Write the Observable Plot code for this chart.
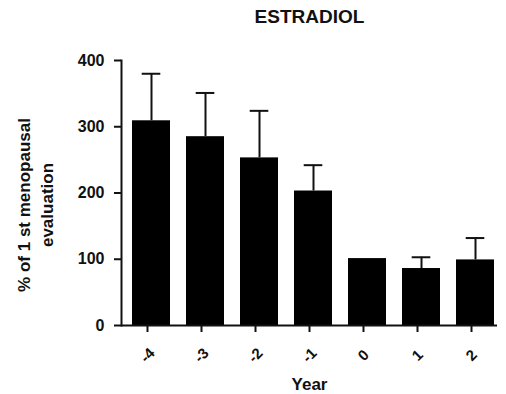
<!DOCTYPE html>
<html>
<head>
<meta charset="utf-8">
<script src="https://cdn.jsdelivr.net/npm/d3@7"></script>
<script src="https://cdn.jsdelivr.net/npm/@observablehq/plot@0.6"></script>
<style>
  html, body { margin: 0; padding: 0; background: #fff; }
  #title {
    width: 506px; height: 34px; line-height: 34px; box-sizing: border-box;
    padding-left: 113px; text-align: center;
    font-family: "Liberation Sans", Arial, sans-serif; font-weight: bold; font-size: 19px; color: #111;
  }
</style>
</head>
<body>
<div id="title"></div>
<div id="chart"></div>
<script>
const chartTitle = "ESTRADIOL";
const years = ["-4", "-3", "-2", "-1", "0", "1", "2"];
const means = [309, 285, 253, 203, 101, 86, 99];
const errors = [71, 66, 71, 39, 0, 17, 33];
const yTicks = [0, 100, 200, 300, 400];
const xTitle = "Year";
const yTitleLines = ["% of 1 st menopausal", "evaluation"];

document.getElementById("title").textContent = chartTitle;

const data = years.map((y, i) => ({year: y, mean: means[i], err: errors[i], upper: means[i] + errors[i]}));
const withErr = data.filter(d => d.err > 0);

const ink = "#111";
const plot = Plot.plot({
  width: 506,
  height: 360,
  marginLeft: 121,
  marginRight: 9,
  marginTop: 26,
  marginBottom: 69,
  style: {fontFamily: "Liberation Sans, Arial, sans-serif", fontWeight: "bold", fontSize: "16px", color: ink, background: "white"},
  x: {domain: years, range: [121, 504], paddingInner: 0.3, paddingOuter: 0.15},
  y: {domain: [0, 400]},
  marks: [
    Plot.barY(data, {x: "year", y: "mean", fill: "black"}),
    Plot.ruleX(withErr, {x: "year", y1: "mean", y2: "upper", stroke: ink, strokeWidth: 2}),
    Plot.tickY(withErr, {x: "year", y: "upper", stroke: ink, strokeWidth: 2, insetLeft: 9.7, insetRight: 9.7}),
    Plot.frame({anchor: "left", stroke: ink, strokeWidth: 2}),
    Plot.ruleY([0], {stroke: ink, strokeWidth: 2}),
    Plot.axisY({ticks: yTicks, tickSize: 7, tickPadding: 10, label: null, fontSize: 16, strokeWidth: 2, stroke: ink}),
    Plot.axisX({tickSize: 7, tickPadding: 23, tickRotate: -45, textAnchor: "middle", lineAnchor: "middle", dx: -4, label: null, fontSize: 15, strokeWidth: 2, stroke: ink}),
    Plot.text([xTitle], {frameAnchor: "bottom", dy: 59, lineAnchor: "middle", fontSize: 17, fill: ink}),
    Plot.text([yTitleLines[0]], {frameAnchor: "left", rotate: -90, dx: -97, dy: 12, textAnchor: "middle", lineAnchor: "middle", fontSize: 17, fill: ink}),
    Plot.text([yTitleLines[1]], {frameAnchor: "left", rotate: -90, dx: -74, dy: 12, textAnchor: "middle", lineAnchor: "middle", fontSize: 17, fill: ink})
  ]
});
document.getElementById("chart").appendChild(plot);
</script>
</body>
</html>
